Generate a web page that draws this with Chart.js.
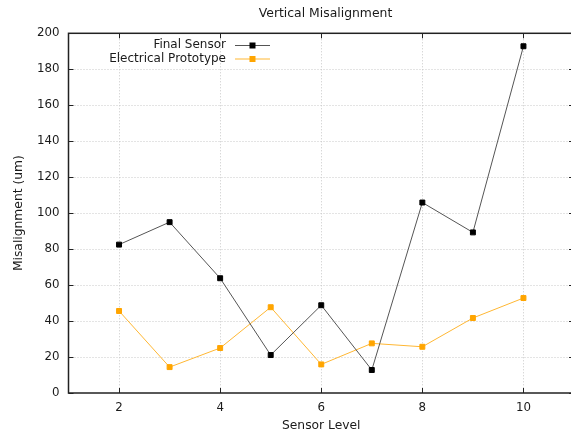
<!DOCTYPE html>
<html>
<head>
<meta charset="utf-8">
<script src="https://cdn.jsdelivr.net/npm/chart.js@4.4.1/dist/chart.umd.min.js"></script>
<style>
  html, body { margin: 0; padding: 0; background: #fff; overflow: hidden; }
  #clip { position: relative; width: 571px; height: 435px; overflow: hidden; }
  #wrap { position: absolute; left: 0; top: 0; width: 579px; height: 435px; }
</style>
</head>
<body>
<div id="clip"><div id="wrap"><canvas id="chart" width="579" height="435" style="width:579px;height:435px"></canvas></div></div>
<script>
// Sensor levels (x) and misalignment readings in um
const sensorLevels = [2, 3, 4, 5, 6, 7, 8, 9, 10];
const finalSensor = [82.5, 95, 63.8, 21.1, 48.8, 12.8, 105.9, 89.3, 192.8];
const electricalPrototype = [45.6, 14.4, 25, 47.7, 15.9, 27.6, 25.7, 41.7, 52.8];
const xTickValues = [2, 4, 6, 8, 10];
const yTickValues = [0, 20, 40, 60, 80, 100, 120, 140, 160, 180, 200];
const chartTitle = 'Vertical Misalignment';

const FONT = '"DejaVu Sans", Verdana, sans-serif';
const TEXT = '#1a1a1a';

function pairs(xs, ys) { return xs.map((x, i) => ({ x: x, y: ys[i] })); }

// gnuplot-style frame: dotted grid, inward mirrored tics, solid border, title and key
const framePlugin = {
  id: 'frame',
  beforeDatasetsDraw(chart) {
    const { ctx, chartArea: a, scales: { x, y } } = chart;
    ctx.save();
    ctx.strokeStyle = '#c8c8c8';
    ctx.lineWidth = 1;
    ctx.setLineDash([1, 2]);
    xTickValues.forEach(v => {
      const px = Math.round(x.getPixelForValue(v)) + 0.5;
      ctx.beginPath(); ctx.moveTo(px, a.top); ctx.lineTo(px, a.bottom); ctx.stroke();
    });
    yTickValues.slice(1, -1).forEach(v => {
      const py = Math.round(y.getPixelForValue(v)) + 0.5;
      ctx.beginPath(); ctx.moveTo(a.left, py); ctx.lineTo(a.right, py); ctx.stroke();
    });
    ctx.restore();
  },
  afterDatasetsDraw(chart) {
    const { ctx, chartArea: a, scales: { x, y } } = chart;
    ctx.save();
    ctx.strokeStyle = '#222';
    ctx.lineWidth = 1;
    const tic = 5;
    xTickValues.forEach(v => {
      const px = Math.round(x.getPixelForValue(v)) + 0.5;
      ctx.beginPath(); ctx.moveTo(px, a.bottom); ctx.lineTo(px, a.bottom - tic); ctx.stroke();
      ctx.beginPath(); ctx.moveTo(px, a.top); ctx.lineTo(px, a.top + tic); ctx.stroke();
    });
    yTickValues.forEach(v => {
      const py = Math.round(y.getPixelForValue(v)) + 0.5;
      ctx.beginPath(); ctx.moveTo(a.left, py); ctx.lineTo(a.left + tic, py); ctx.stroke();
      ctx.beginPath(); ctx.moveTo(a.right, py); ctx.lineTo(a.right - tic, py); ctx.stroke();
    });
    ctx.lineWidth = 1.5;
    ctx.strokeRect(a.left, a.top, a.right - a.left, a.bottom - a.top);

    // title
    ctx.fillStyle = TEXT;
    ctx.textAlign = 'center';
    ctx.textBaseline = 'middle';
    ctx.font = '12.4px ' + FONT;
    ctx.fillText(chartTitle, 325.5, 14);

    // key
    ctx.font = '12px ' + FONT;
    ctx.textAlign = 'right';
    const rows = [45, 58.5];
    chart.data.datasets.forEach((ds, i) => {
      const yy = rows[i];
      ctx.fillStyle = TEXT;
      ctx.fillText(ds.label, 226, yy);
      ctx.strokeStyle = ds.borderColor;
      ctx.lineWidth = 1;
      ctx.beginPath(); ctx.moveTo(235, yy + 0.5); ctx.lineTo(270, yy + 0.5); ctx.stroke();
      ctx.fillStyle = ds.pointBackgroundColor;
      ctx.fillRect(249.5, yy - 2.5, 6, 6);
    });
    ctx.restore();
  }
};

new Chart(document.getElementById('chart'), {
  type: 'line',
  data: {
    datasets: [
      {
        label: 'Final Sensor',
        data: pairs(sensorLevels, finalSensor),
        borderColor: '#555555',
        borderWidth: 1,
        pointStyle: 'rect',
        pointRadius: 3.5,
        pointBorderWidth: 1,
        pointBackgroundColor: '#000000',
        pointBorderColor: '#000000',
        tension: 0,
        fill: false
      },
      {
        label: 'Electrical Prototype',
        data: pairs(sensorLevels, electricalPrototype),
        borderColor: '#ffb733',
        borderWidth: 1,
        pointStyle: 'rect',
        pointRadius: 3.5,
        pointBorderWidth: 1,
        pointBackgroundColor: '#ffa500',
        pointBorderColor: '#ffa500',
        tension: 0,
        fill: false
      }
    ]
  },
  options: {
    responsive: false,
    animation: false,
    // the frame's right edge sits just past the visible page edge
    layout: { padding: { left: 0, right: 5, top: 33.3, bottom: 0 } },
    plugins: {
      legend: { display: false },
      tooltip: { enabled: false },
      title: { display: false }
    },
    scales: {
      x: {
        type: 'linear',
        min: 1,
        max: 11,
        grid: { display: false, drawTicks: false },
        border: { display: false },
        afterBuildTicks: s => { s.ticks = xTickValues.map(v => ({ value: v })); },
        afterFit: s => { s.height = 42; s.paddingLeft = 0; s.paddingRight = 0; },
        ticks: {
          color: TEXT,
          padding: 8,
          maxRotation: 0,
          font: { family: FONT, size: 11.8 }
        },
        title: {
          display: true,
          text: 'Sensor Level',
          color: TEXT,
          font: { family: FONT, size: 12.3 },
          padding: { top: 0, bottom: 1.5 }
        }
      },
      y: {
        min: 0,
        max: 200,
        grid: { display: false, drawTicks: false },
        border: { display: false },
        afterBuildTicks: s => { s.ticks = yTickValues.map(v => ({ value: v })); },
        afterFit: s => { s.width = 68.5; s.paddingTop = 0; s.paddingBottom = 0; },
        ticks: {
          color: TEXT,
          padding: 9,
          font: { family: FONT, size: 11.8 }
        },
        title: {
          display: true,
          text: 'Misalignment (um)',
          color: TEXT,
          font: { family: FONT, size: 12.3 },
          padding: { top: 11, bottom: 0 }
        }
      }
    }
  },
  plugins: [framePlugin]
});
</script>
</body>
</html>
